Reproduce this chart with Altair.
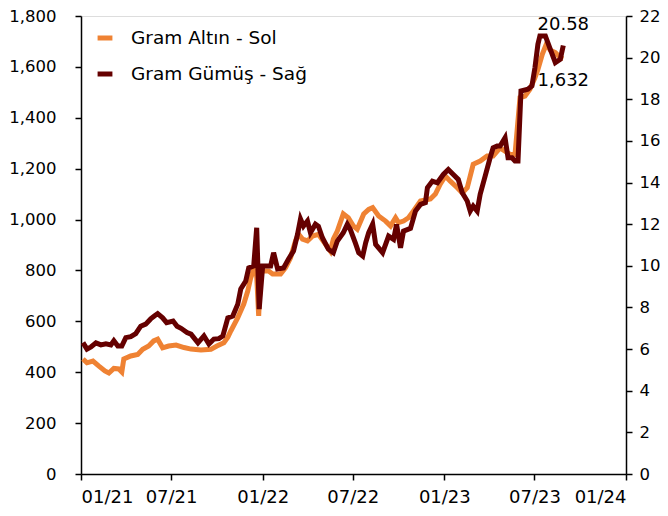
import altair as alt
import pandas as pd

gold_dates = [
    "2021-01-05", "2021-01-13", "2021-01-25", "2021-02-06", "2021-02-18", "2021-02-26",
    "2021-03-08", "2021-03-18", "2021-03-24", "2021-03-28", "2021-04-11", "2021-04-25",
    "2021-05-05", "2021-05-17", "2021-05-27", "2021-06-04", "2021-06-14", "2021-06-26",
    "2021-07-11", "2021-07-27", "2021-08-10", "2021-08-30", "2021-09-19", "2021-10-01",
    "2021-10-15", "2021-10-23", "2021-10-29", "2021-11-12", "2021-11-24", "2021-12-02",
    "2021-12-08", "2021-12-14", "2021-12-20", "2021-12-24", "2021-12-28", "2022-01-13",
    "2022-01-21", "2022-02-06", "2022-02-16", "2022-02-26", "2022-03-08", "2022-03-14",
    "2022-03-22", "2022-04-01", "2022-04-11", "2022-04-23", "2022-05-07", "2022-05-17",
    "2022-05-23", "2022-05-31", "2022-06-12", "2022-06-22", "2022-07-02", "2022-07-10",
    "2022-07-23", "2022-08-02", "2022-08-10", "2022-08-22", "2022-09-05", "2022-09-15",
    "2022-09-25", "2022-10-01", "2022-10-11", "2022-10-21", "2022-10-31", "2022-11-14",
    "2022-12-04", "2022-12-14", "2022-12-24", "2023-01-03", "2023-01-13", "2023-01-27",
    "2023-02-06", "2023-02-16", "2023-02-28", "2023-03-14", "2023-03-28", "2023-04-09",
    "2023-04-23", "2023-05-03", "2023-05-13", "2023-05-23", "2023-06-02", "2023-06-12",
    "2023-06-22", "2023-07-02", "2023-07-08", "2023-07-17", "2023-07-25", "2023-08-02",
    "2023-08-12", "2023-08-22", "2023-08-28",
]
gold_values = [
    452, 437, 444, 424, 405, 397,
    415, 413, 401, 452, 464, 470,
    490, 503, 523, 530, 496, 503,
    507, 497, 491, 487, 490, 503,
    516, 538, 562, 614, 668, 719,
    771, 805, 778, 621, 798, 798,
    786, 786, 811, 850, 916, 943,
    923, 916, 935, 942, 904, 876,
    923, 955, 1022, 1007, 975, 962,
    1022, 1040, 1047, 1014, 994, 975,
    1007, 988, 994, 1007, 1034, 1073,
    1081, 1100, 1140, 1171, 1151, 1125,
    1105, 1125, 1217, 1230, 1250, 1250,
    1282, 1269, 1256, 1256, 1479, 1485,
    1512, 1557, 1590, 1650, 1690, 1665,
    1656, 1636, 1632,
]

silver_dates = [
    "2021-01-05", "2021-01-13", "2021-01-21", "2021-01-31", "2021-02-10", "2021-02-20",
    "2021-03-02", "2021-03-08", "2021-03-16", "2021-03-24", "2021-04-01", "2021-04-11",
    "2021-04-21", "2021-05-01", "2021-05-11", "2021-05-21", "2021-05-29", "2021-06-04",
    "2021-06-14", "2021-06-22", "2021-07-05", "2021-07-13", "2021-07-21", "2021-08-02",
    "2021-08-10", "2021-08-24", "2021-09-05", "2021-09-15", "2021-09-25", "2021-10-05",
    "2021-10-13", "2021-10-23", "2021-11-02", "2021-11-12", "2021-11-18", "2021-11-28",
    "2021-12-04", "2021-12-14", "2021-12-20", "2021-12-25", "2022-01-01", "2022-01-17",
    "2022-01-23", "2022-01-31", "2022-02-12", "2022-02-22", "2022-03-04", "2022-03-12",
    "2022-03-18", "2022-03-24", "2022-04-01", "2022-04-07", "2022-04-17", "2022-04-23",
    "2022-05-01", "2022-05-13", "2022-05-23", "2022-05-31", "2022-06-12", "2022-06-20",
    "2022-06-26", "2022-07-06", "2022-07-13", "2022-07-21", "2022-07-27", "2022-08-02",
    "2022-08-10", "2022-08-16", "2022-08-30", "2022-09-11", "2022-09-21", "2022-09-27",
    "2022-10-05", "2022-10-11", "2022-10-25", "2022-11-04", "2022-11-14", "2022-11-24",
    "2022-11-28", "2022-12-08", "2022-12-18", "2022-12-30", "2023-01-09", "2023-01-19",
    "2023-01-29", "2023-02-06", "2023-02-16", "2023-02-22", "2023-02-28", "2023-03-08",
    "2023-03-14", "2023-03-24", "2023-04-03", "2023-04-09", "2023-04-17", "2023-04-23",
    "2023-05-03", "2023-05-09", "2023-05-17", "2023-05-23", "2023-05-29", "2023-06-04",
    "2023-06-18", "2023-06-26", "2023-07-02", "2023-07-08", "2023-07-12", "2023-07-23",
    "2023-08-02", "2023-08-12", "2023-08-22", "2023-08-28",
]
silver_values = [
    6.31, 6.00, 6.10, 6.30, 6.20, 6.25,
    6.20, 6.40, 6.15, 6.15, 6.55, 6.60,
    6.74, 7.10, 7.20, 7.45, 7.60, 7.70,
    7.50, 7.27, 7.35, 7.10, 7.00, 6.80,
    6.72, 6.30, 6.63, 6.24, 6.48, 6.50,
    6.63, 7.50, 7.59, 8.16, 8.89, 9.27,
    9.90, 9.99, 11.83, 7.92, 9.99, 9.99,
    10.63, 9.85, 9.90, 10.33, 10.71, 11.51,
    12.25, 11.91, 12.15, 11.59, 12.00, 11.90,
    11.35, 10.80, 10.63, 11.19, 11.59, 11.99,
    11.75, 11.11, 10.63, 10.47, 11.11, 11.59,
    12.00, 11.03, 10.63, 11.43, 11.27, 11.99,
    10.87, 11.67, 11.80, 12.63, 12.95, 13.03,
    13.75, 14.07, 13.99, 14.39, 14.63, 14.39,
    14.15, 13.51, 13.11, 12.63, 12.87, 12.63,
    13.43, 14.31, 15.19, 15.67, 15.75, 15.75,
    16.15, 15.19, 15.19, 15.03, 15.03, 18.40,
    18.48, 18.64, 19.51, 20.64, 21.04, 21.04,
    20.40, 19.76, 19.92, 20.58,
]

series_names = ["Gram Altın - Sol", "Gram Gümüş - Sağ"]
series_colors = ["#EF8233", "#650000"]
x_ticks = ["2021-01-01", "2021-07-01", "2022-01-01", "2022-07-01",
           "2023-01-01", "2023-07-01", "2024-01-01"]
gold_ticks = [0, 200, 400, 600, 800, 1000, 1200, 1400, 1600, 1800]
silver_ticks = [0, 2, 4, 6, 8, 10, 12, 14, 16, 18, 20, 22]

gold_df = pd.DataFrame({"date": gold_dates, "value": gold_values, "series": series_names[0]})
silver_df = pd.DataFrame({"date": silver_dates, "value": silver_values, "series": series_names[1]})
gold_last = gold_df.tail(1).assign(label=f"{gold_values[-1]:,}")
silver_last = silver_df.tail(1).assign(label=f"{silver_values[-1]:.2f}")

FONT = "DejaVu Sans"

x_enc = alt.X(
    "date:T",
    scale=alt.Scale(domain=[x_ticks[0], x_ticks[-1]]),
    axis=alt.Axis(
        title=None, format="%m/%y", values=x_ticks, grid=False,
        tickSize=6, labelPadding=8, domainColor="black", tickColor="black",
        domainWidth=1.5, tickWidth=1.5, labelFontSize=18, labelColor="black",
        labelFont=FONT,
    ),
)

color_enc = alt.Color(
    "series:N",
    scale=alt.Scale(domain=series_names, range=series_colors),
    legend=alt.Legend(
        title=None, orient="none", legendX=14, legendY=12,
        symbolType="stroke", symbolStrokeWidth=5, symbolSize=220,
        labelFontSize=18.5, labelFont=FONT, labelColor="black",
        labelOffset=16, rowPadding=16, labelLimit=400,
    ),
)

gold_line = alt.Chart(gold_df).mark_line(strokeWidth=5).encode(
    x=x_enc,
    y=alt.Y("value:Q", scale=alt.Scale(domain=[0, 1800]),
            axis=alt.Axis(title=None, orient="left", values=gold_ticks, format=",.0f",
                          grid=False, tickSize=6, labelPadding=19,
                          domainColor="black", tickColor="black",
                          domainWidth=1.5, tickWidth=1.5, labelFontSize=16.5,
                          labelColor="black", labelFont=FONT)),
    color=color_enc,
)

silver_line = alt.Chart(silver_df).mark_line(strokeWidth=5).encode(
    x=x_enc,
    y=alt.Y("value:Q", scale=alt.Scale(domain=[0, 22]),
            axis=alt.Axis(title=None, orient="right", values=silver_ticks,
                          grid=False, tickSize=6, labelPadding=7,
                          domainColor="black", tickColor="black",
                          domainWidth=1.5, tickWidth=1.5, labelFontSize=16.5,
                          labelColor="black", labelFont=FONT)),
    color=color_enc,
)

gold_text = alt.Chart(gold_last).mark_text(
    fontSize=18, font=FONT, color="black", dy=22, dx=0
).encode(
    x=x_enc,
    y=alt.Y("value:Q", scale=alt.Scale(domain=[0, 1800]), axis=None),
    text="label:N",
)

silver_text = alt.Chart(silver_last).mark_text(
    fontSize=18, font=FONT, color="black", dy=-21, dx=0
).encode(
    x=x_enc,
    y=alt.Y("value:Q", scale=alt.Scale(domain=[0, 22]), axis=None),
    text="label:N",
)

chart = alt.layer(gold_line, silver_line, gold_text, silver_text).resolve_scale(
    y="independent"
).properties(
    width=545, height=458, padding=0
).configure_view(
    stroke=None
).configure(
    background="white"
)

chart.save("out.html", embed_options={"renderer": "svg", "actions": False})
